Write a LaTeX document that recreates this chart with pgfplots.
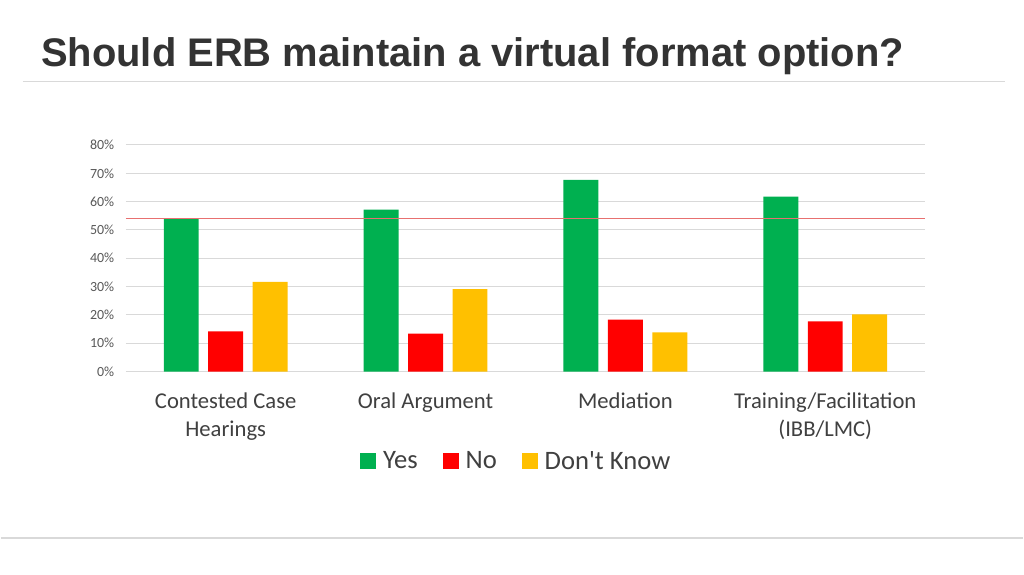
\documentclass[border=0pt]{standalone}
\usepackage{pgfplots}
\pgfplotsset{compat=1.18}
\usepackage{fontspec}
\setmainfont{Carlito}[Ligatures=TeXOff]
\newfontfamily\titlefont{Liberation Sans}
\definecolor{cyes}{HTML}{00B050}
\definecolor{cno}{HTML}{FF0000}
\definecolor{cdk}{HTML}{FFC000}
\definecolor{cgrid}{HTML}{D9D9D9}
\definecolor{ctitle}{HTML}{333333}
\definecolor{ctext}{HTML}{404040}
\definecolor{ctick}{HTML}{595959}
\definecolor{cref}{HTML}{E87070}
\begin{document}
\begin{tikzpicture}
\fill[white] (0pt,0pt) rectangle (768pt,432pt);
\node[anchor=base west, inner sep=0pt, text=ctitle, font=\titlefont\bfseries\fontsize{30}{36}\selectfont] at (30pt,382.1pt) {Should ERB maintain a virtual format option?};
\draw[cgrid, line width=0.75pt] (16.5pt,370.5pt) -- (754.5pt,370.5pt);
\draw[cgrid, line width=1.5pt] (0pt,27.75pt) -- (768pt,27.75pt);
\begin{axis}[
  at={(93.75pt,152.8pt)}, anchor=south west,
  scale only axis, width=600.75pt, height=170.25pt,
  xmin=-0.5, xmax=3.5, ymin=0, ymax=80,
  ybar, bar width=26.25pt,
  axis line style={draw=none},
  major tick length=0pt,
  ytick={0,10,...,80},
  ymajorgrids, grid style={cgrid, line width=0.75pt},
  yticklabel={\pgfmathprintnumber{\tick}\%},
  /pgf/number format/assume math mode=true,
  yticklabel style={font=\fontsize{10.5}{12}\selectfont, text=ctick, anchor=east, inner sep=0pt, xshift=-8.5pt},
  xtick={0,1,2,3},
  xticklabels={{Contested Case\\Hearings},{Oral Argument},{Mediation},{Training/Facilitation\\(IBB/LMC)}},
  xticklabel style={font=\fontsize{17}{21}\selectfont, text=ctext, align=center, anchor=north, inner sep=0pt, yshift=-16pt},
  legend columns=3,
  legend style={at={(0.489,-0.395)}, anchor=center, draw=none, fill=none,
    font=\fontsize{20}{24}\selectfont, text=ctext,
    /tikz/every odd column/.append style={column sep=3pt},
    /tikz/every even column/.append style={column sep=17pt}},
  legend image code/.code={\fill[#1] (0pt,-6pt) rectangle (12pt,6pt);},
]
\addplot[fill=cyes, draw=none, bar shift=-33.4pt] coordinates {(0,54.1) (1,57.2) (2,67.7) (3,61.8)};
\addlegendentry{Yes}
\addplot[fill=cno, draw=none, bar shift=0pt] coordinates {(0,14.2) (1,13.4) (2,18.3) (3,17.7)};
\addlegendentry{No}
\addplot[fill=cdk, draw=none, bar shift=33.4pt] coordinates {(0,31.7) (1,29.1) (2,13.8) (3,20.2)};
\addlegendentry{Don't Know}
\addplot[sharp plot, forget plot, cref, line width=0.75pt, mark=none] coordinates {(-0.5,54.1) (3.5,54.1)};
\end{axis}
\end{tikzpicture}
\end{document}
